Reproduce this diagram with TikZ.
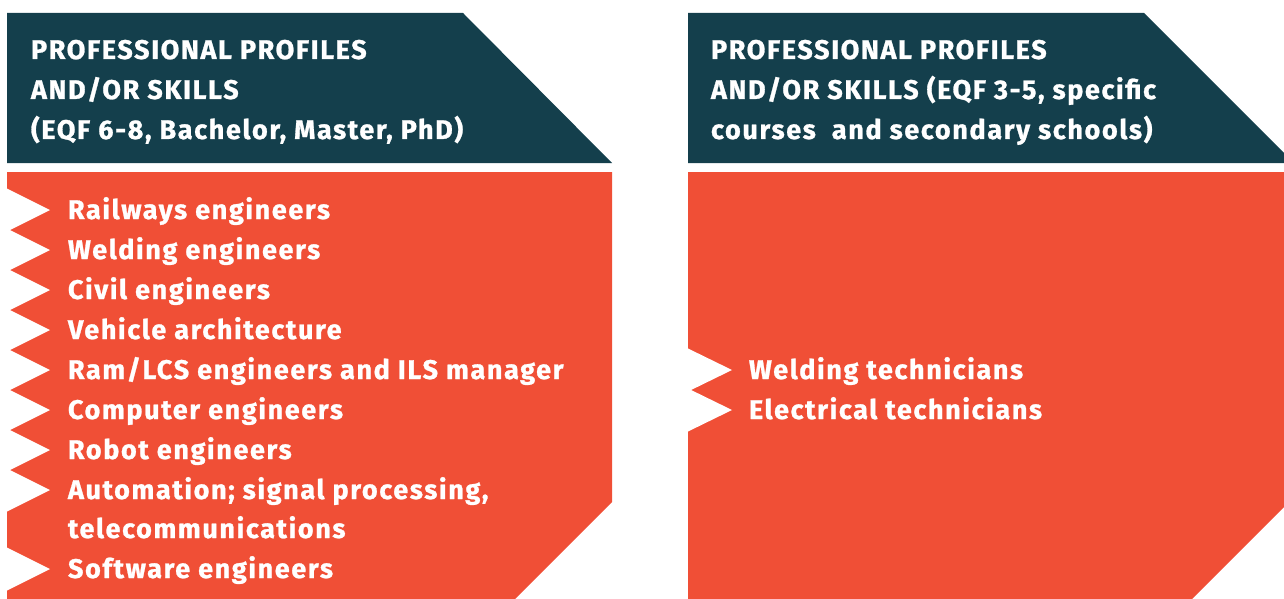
\documentclass[tikz,border=0pt]{standalone}
\usepackage{fontspec}
\setmainfont{Fira Sans}
\newfontfamily\boxfont{Fira Sans}[UprightFont=* Bold, BoldFont=* Bold, FakeBold=1, LetterSpace=6]
\definecolor{hdrcol}{HTML}{143F4C}
\definecolor{bodycol}{HTML}{F04F36}
\begin{document}
\begin{tikzpicture}[x=1pt,y=-1pt,
  every node/.style={inner sep=0pt, outer sep=0pt},
  hdrtext/.style={text=white, font=\boxfont\fontsize{27}{27}\selectfont, anchor=base west},
  itemtext/.style={text=white, font=\boxfont\fontsize{27}{27}\selectfont, anchor=base west},
  notch/.style={fill=white}]
\useasboundingbox (0,0) rectangle (1284,599);
% headers
\fill[hdrcol] (7,13) -- (463,13) -- (612,163) -- (7,163) -- cycle;
\fill[hdrcol] (688,13) -- (1144,13) -- (1284,153) -- (1284,163) -- (688,163) -- cycle;
% bodies
\fill[bodycol] (7,172) -- (612,172) -- (612,502) -- (515,599) -- (7,599) -- cycle;
\fill[bodycol] (688,172) -- (1284,172) -- (1284,507) -- (1192,599) -- (688,599) -- cycle;
% notches
\foreach \c in {210,250,290,330,370,410,450,490,569}
  \fill[notch] (6,\c-22) -- (50,\c) -- (6,\c+22) -- cycle;
\foreach \c in {370,410}
  \fill[notch] (687,\c-22) -- (732,\c) -- (687,\c+22) -- cycle;
% header texts
\node[hdrtext] (h1a) at (31,59) {PROFESSIONAL PROFILES};
\node[hdrtext] (h1b) at (31,99) {AND/OR SKILLS};
\node[hdrtext] (h1c) at (31,139) {(EQF 6-8, Bachelor, Master, PhD)};
\node[hdrtext] (h2a) at (711,59) {PROFESSIONAL PROFILES};
\node[hdrtext] (h2b) at (711,99) {AND/OR SKILLS (EQF 3-5, specific};
\node[hdrtext] (h2c) at (711,139) {courses\ \ and secondary schools)};
% left items
\node[itemtext] (i1) at (68,219) {Railways engineers};
\node[itemtext] (i2) at (68,259) {Welding engineers};
\node[itemtext] (i3) at (68,299) {Civil engineers};
\node[itemtext] (i4) at (68,339) {Vehicle architecture};
\node[itemtext] (i5) at (68,379) {Ram/LCS engineers and ILS manager};
\node[itemtext] (i6) at (68,419) {Computer engineers};
\node[itemtext] (i7) at (68,459) {Robot engineers};
\node[itemtext] (i8) at (68,499) {Automation; signal processing,};
\node[itemtext] (i9) at (68,538) {telecommunications};
\node[itemtext] (i10) at (68,578) {Software engineers};
% right items
\node[itemtext] (r1) at (749,379) {Welding technicians};
\node[itemtext] (r2) at (749,419) {Electrical technicians};
\end{tikzpicture}
\end{document}
